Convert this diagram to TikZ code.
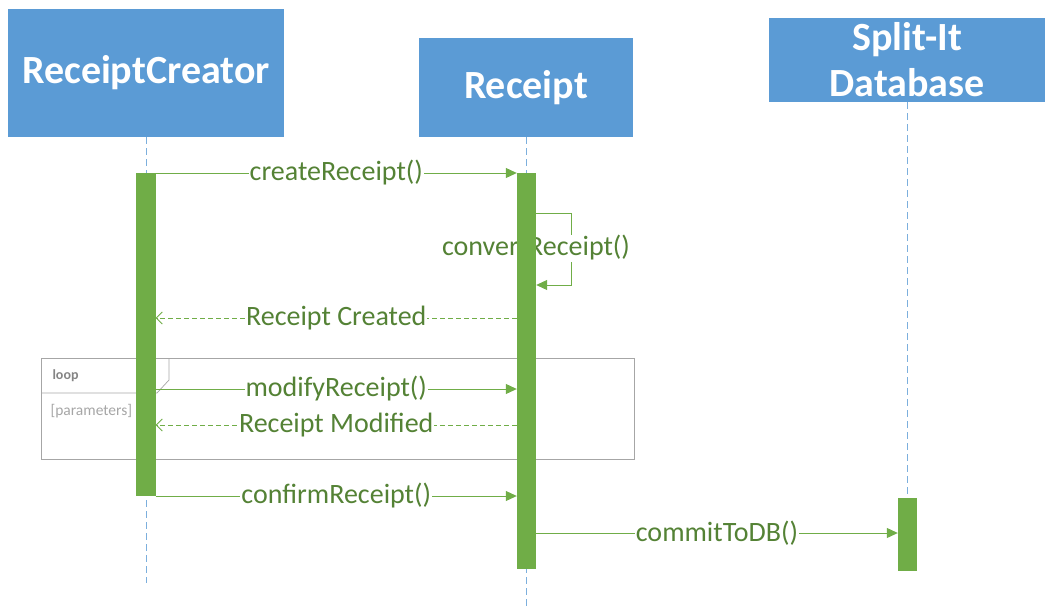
\documentclass[tikz,border=0pt]{standalone}
\usepackage{fontspec}
\setmainfont{Carlito}
\usetikzlibrary{arrows.meta}
\definecolor{boxblue}{HTML}{5B9BD5}
\definecolor{msggreen}{HTML}{70AD47}
\definecolor{txtgreen}{HTML}{548235}
\definecolor{framegray}{HTML}{A6A6A6}
\tikzset{
  head/.style={fill=boxblue,draw=none,text=white,align=center,inner sep=0,
    font=\fontsize{40}{46}\selectfont\bfseries},
  lifeline/.style={boxblue!80,line width=0.8pt,dash pattern=on 7pt off 4pt},
  actbar/.style={fill=msggreen,draw=none,inner sep=0,minimum width=19},
  call/.style={msggreen,line width=1pt,-{Triangle[length=11pt,width=10pt]}},
  reply/.style={msggreen,line width=0.8pt,dash pattern=on 5pt off 3pt,-{Straight Barb[length=6pt,width=12pt]}},
  msg/.style={fill=white,text=txtgreen,inner sep=1pt,font=\fontsize{28}{32}\selectfont},
}
\begin{document}
\begin{tikzpicture}[x=1pt,y=-1pt]
    \useasboundingbox (0,0) rectangle (1048,613);
    % heads
    \node[head,minimum width=276,minimum height=128] (rc) at (146,73) {ReceiptCreator};
    \node[head,minimum width=214,minimum height=99] (rcpt) at (526,87.5) {Receipt};
    \node[head,minimum width=276,minimum height=84] (db) at (907,60) {Split-It\\Database};
    % lifelines
    \coordinate (rcend) at (146,583);
    \coordinate (rcptend) at (526,610);
    \coordinate (dbend) at (907,575);
    \draw[lifeline] (rc.south) -- (rcend);
    \draw[lifeline] (rcpt.south) -- (rcptend);
    \draw[lifeline] (db.south) -- (dbend);
    % loop frame
    \node[draw=framegray,line width=0.7pt,minimum width=593,minimum height=101,anchor=north west,inner sep=0] (loopbox) at (41,358) {};
    \draw[framegray,line width=0.7pt] (loopbox.west |- 0,393) -- (157,393) -- (169,380) -- (169,358);
    \node[text=framegray!80!black,anchor=west,font=\fontsize{14}{16}\selectfont\bfseries] (looptag) at (49,376) {loop};
    \node[text=framegray,anchor=west,font=\fontsize{15.5}{18}\selectfont] (loopcond) at (47,411) {[parameters]};
    % activation bars (placed now, drawn last)
    \path (146,334.5) node[actbar,minimum height=323,fill=none] (rcbar) {}
          (526.5,371) node[actbar,minimum height=396,fill=none] (rcptbar) {}
          (907.5,534.5) node[actbar,minimum height=73,fill=none] (dbbar) {};
    % messages
    \foreach \y/\txt in {173/{createReceipt()},389/{modifyReceipt()},496/{confirmReceipt()}}
        \draw[call] (rcbar.east |- 0,\y) -- node[msg]{\txt} (rcptbar.west |- 0,\y);
    \foreach \y/\txt in {318/{Receipt Created},425/{Receipt Modified}}
        \draw[reply] (rcptbar.west |- 0,\y) -- node[msg]{\txt} (rcbar.east |- 0,\y);
    \draw[call] (rcptbar.east |- 0,213) -- (571,213) -- (571,285) -- (rcptbar.east |- 0,285);
    \node[msg] (conv) at (536,248) {convertReceipt()};
    \draw[call] (rcptbar.east |- 0,533) -- node[msg]{commitToDB()} (dbbar.west |- 0,533);
    % bars on top
    \foreach \b in {rcbar,rcptbar,dbbar}
        \fill[msggreen] (\b.north west) rectangle (\b.south east);
\end{tikzpicture}
\end{document}
